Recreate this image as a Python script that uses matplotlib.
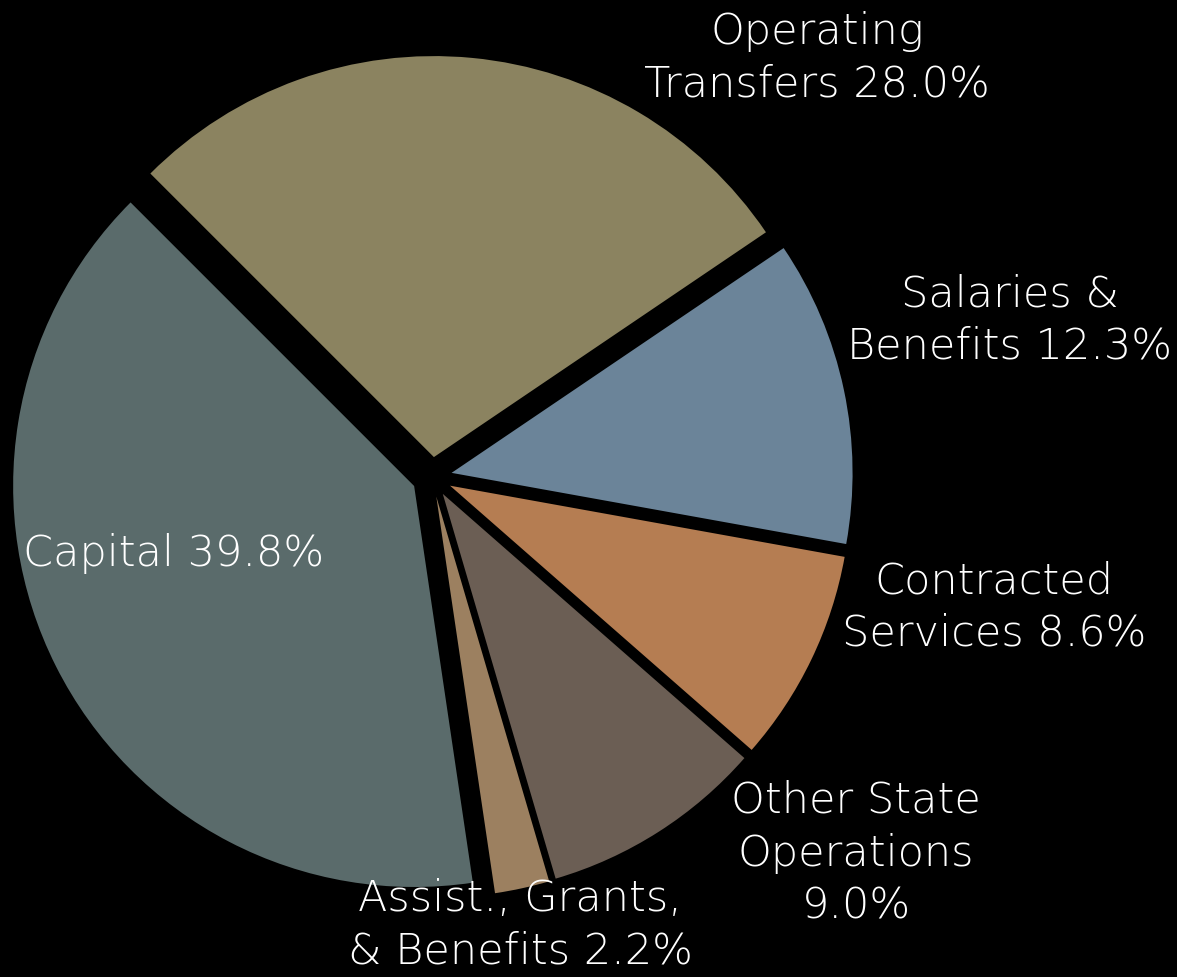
import matplotlib
matplotlib.use("Agg")
import matplotlib.pyplot as plt

# slice data, clockwise from upper left
labels = ["Operating\nTransfers 28.0%", "Salaries &\nBenefits 12.3%",
          "Contracted\nServices 8.6%", "Other State\nOperations\n9.0%",
          "Assist., Grants,\n& Benefits 2.2%", "Capital 39.8%"]
shares = [28.0, 12.3, 8.6, 9.0, 2.2, 39.8]
colors = ["#8B8360", "#6B8499", "#B57D52", "#6B5E54", "#9C8060", "#5A6B6B"]

# label anchor points in pixel space (x, y from top)
label_pos = [(817, 58), (1010, 320), (994, 607), (856, 853), (520, 925), (174, 553)]

W, H = 1177, 977
fig = plt.figure(figsize=(W / 100, H / 100), dpi=100, facecolor="black")
ax = fig.add_axes([0, 0, 1, 1])
ax.set_facecolor("black")

ax.pie(shares, colors=colors, startangle=135, counterclock=False,
       radius=401, center=(432, H - 477), explode=[20] * len(shares),
       wedgeprops=dict(linewidth=0), normalize=True)

for text, (x, y) in zip(labels, label_pos):
    ax.text(x, H - y, text, color="white", fontsize=31, ha="center", va="center",
            family="DejaVu Sans", fontweight="light", linespacing=1.36)

ax.set_xlim(0, W)
ax.set_ylim(0, H)
ax.set_aspect("equal")
ax.axis("off")

fig.savefig("out.png", dpi=100, facecolor="black")
